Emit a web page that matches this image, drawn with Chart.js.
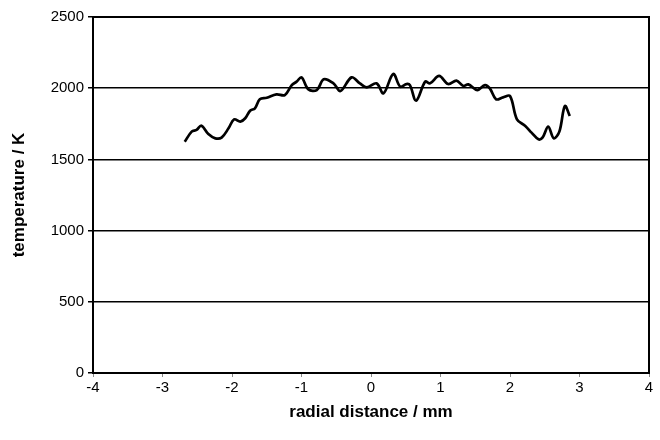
<!DOCTYPE html>
<html>
<head>
<meta charset="utf-8">
<title>temperature profile</title>
<script src="https://cdn.jsdelivr.net/npm/chart.js@4.4.1/dist/chart.umd.min.js"></script>
<style>
  html, body { margin: 0; padding: 0; background: #fff; }
  #wrap { width: 660px; height: 440px; }
</style>
</head>
<body>
<div id="wrap"><canvas id="chart" width="660" height="440"></canvas></div>
<script>
// radial distance (mm) and temperature (K)
const radialDistance = [
  -2.68, -2.58, -2.51, -2.44, -2.34, -2.24, -2.15, -2.05, -1.97, -1.88,
  -1.81, -1.74, -1.67, -1.60, -1.50, -1.36, -1.24, -1.14, -1.07, -1.00,
  -0.90, -0.78, -0.68, -0.54, -0.44, -0.28, -0.16, -0.06, 0.08, 0.18,
  0.32, 0.42, 0.51, 0.56, 0.65, 0.78, 0.85, 0.98, 1.11, 1.23,
  1.33, 1.40, 1.53, 1.64, 1.71, 1.80, 1.90, 2.00, 2.10, 2.22,
  2.31, 2.41, 2.47, 2.55, 2.63, 2.71, 2.79, 2.86,
];
const temperature = [
  1624, 1695, 1707, 1737, 1678, 1648, 1653, 1718, 1781, 1765,
  1789, 1842, 1859, 1922, 1933, 1957, 1952, 2022, 2046, 2076,
  1992, 1987, 2062, 2034, 1980, 2076, 2034, 2006, 2034, 1964,
  2100, 2011, 2029, 2022, 1913, 2046, 2034, 2086, 2029, 2053,
  2015, 2027, 1987, 2022, 1999, 1922, 1936, 1945, 1781, 1735,
  1688, 1641, 1655, 1730, 1648, 1695, 1875, 1805,
];
const xTicks = [-4, -3, -2, -1, 0, 1, 2, 3, 4];
const yTicks = [0, 500, 1000, 1500, 2000, 2500];

const points = radialDistance.map((x, i) => ({ x, y: temperature[i] }));
const font = "'Liberation Sans', Arial, sans-serif";

// box around the plot area
const frame = {
  id: "frame",
  afterDraw(chart) {
    const { ctx, chartArea: a } = chart;
    ctx.save();
    ctx.strokeStyle = "#000";
    ctx.lineWidth = 2;
    ctx.strokeRect(a.left, a.top, a.right - a.left, a.bottom - a.top);
    ctx.restore();
  },
};

new Chart(document.getElementById("chart"), {
  type: "scatter",
  data: {
    datasets: [{
      data: points,
      showLine: true,
      borderColor: "#000",
      borderWidth: 2.7,
      pointRadius: 0,
      tension: 0.35,
    }],
  },
  options: {
    responsive: false,
    animation: false,
    layout: { padding: { left: 0, right: 11, top: 17, bottom: 15 } },
    plugins: { legend: { display: false }, tooltip: { enabled: false } },
    scales: {
      x: {
        type: "linear",
        min: -4,
        max: 4,
        afterBuildTicks: (axis) => { axis.ticks = xTicks.map((v) => ({ value: v })); },
        afterFit: (axis) => { axis.height = 52; },
        grid: { drawOnChartArea: false, drawTicks: true, tickLength: 4, color: "#888" },
        border: { display: true, color: "#000", width: 2 },
        ticks: { color: "#000", font: { family: font, size: 15 }, padding: 2, callback: (v) => String(v) },
        title: {
          display: true,
          text: "radial distance / mm",
          color: "#000",
          font: { family: font, size: 17, weight: "bold" },
          padding: { top: 4, bottom: 2 },
        },
      },
      y: {
        min: 0,
        max: 2500,
        afterBuildTicks: (axis) => { axis.ticks = yTicks.map((v) => ({ value: v })); },
        afterFit: (axis) => { axis.width = 93; },
        grid: { color: "#000", lineWidth: 1.5, tickLength: 5 },
        border: { display: true, color: "#000", width: 2 },
        ticks: { color: "#000", font: { family: font, size: 15 }, padding: 4, callback: (v) => String(v) },
        title: {
          display: true,
          text: "temperature / K",
          color: "#000",
          font: { family: font, size: 17, weight: "bold" },
          padding: { top: 9, bottom: 0 },
        },
      },
    },
  },
  plugins: [frame],
});
</script>
</body>
</html>
